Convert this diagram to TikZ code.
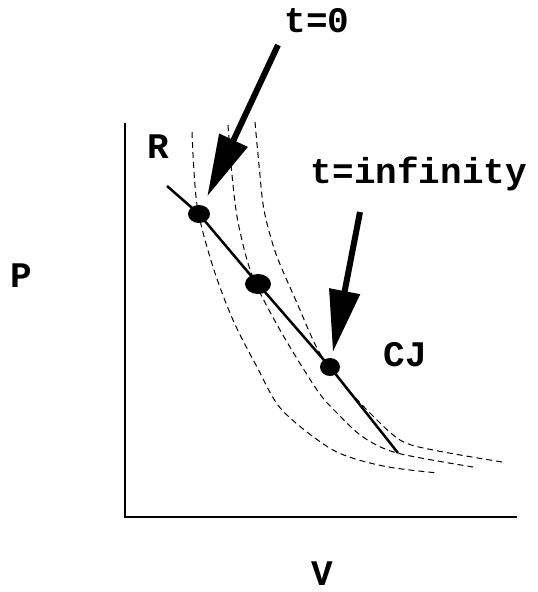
\documentclass[tikz,border=0pt]{standalone}
\usepackage{fontspec}
\setmonofont{Liberation Mono}
\usetikzlibrary{arrows.meta,shapes.geometric}

\begin{document}
\begin{tikzpicture}[x=1pt,y=-1pt,
  lbl/.style={font=\fontsize{36}{38}\selectfont\ttfamily\bfseries, inner sep=0pt, anchor=base},
  state/.style={ellipse, fill=black, inner sep=0pt},
  iso/.style={line width=1pt, dash pattern=on 6pt off 4pt},
  timearrow/.style={line width=6pt, -{Triangle[length=62pt,width=30pt]}}]
\useasboundingbox (0,0) rectangle (538,592);
% Axes
\coordinate (ytop) at (125,123);
\coordinate (origin) at (125,517);
\coordinate (xend) at (517,517);
\draw[line width=2.5pt] (ytop) -- (origin) -- (xend);
\node[lbl] (plbl) at (21,287) {P};
\node[lbl] (vlbl) at (322,585) {V};
% Dashed curves
\draw[iso] plot[smooth] coordinates {(192,132) (197,205) (213,267) (233,320)
  (257,367) (282,410) (333,450) (383,466) (438,473)};
\draw[iso] plot[smooth] coordinates {(228,125) (232,175) (238,222) (252,275)
  (280,330) (317,390) (337,413) (363,437) (397,453) (473,467)};
\draw[iso] plot[smooth] coordinates {(255,122) (259,165) (264,210) (276,254)
  (297,303) (318,350) (340,380) (367,410) (400,440) (433,450) (502,462)};
% States on the line
\node[state, minimum width=22pt, minimum height=18pt] (d1) at (199,214) {};
\node[state, minimum width=26pt, minimum height=20pt] (d2) at (258,284) {};
\node[state, minimum width=20pt, minimum height=18pt] (d3) at (330,367) {};
\coordinate (rtop) at (167,186);
\coordinate (rend) at (398,453);
\draw[line width=2.5pt] (rtop) -- (d1.center) -- (d2.center) -- (d3.center) -- (rend);
\node[lbl] (rlbl) at (158,158) {R};
\node[lbl] (cjlbl) at (405,366) {CJ};
% Time arrows
\node[lbl] (t0lbl) at (317,32) {t=0};
\node[lbl] (tinflbl) at (419,183) {t=infinity};
\coordinate (t0tail) at (278,45);
\coordinate (tinftail) at (360,212);
\draw[timearrow, shorten >=10pt] (t0tail) -- (d1);
\draw[timearrow, shorten >=6pt] (tinftail) -- (d3);
\end{tikzpicture}
\end{document}
